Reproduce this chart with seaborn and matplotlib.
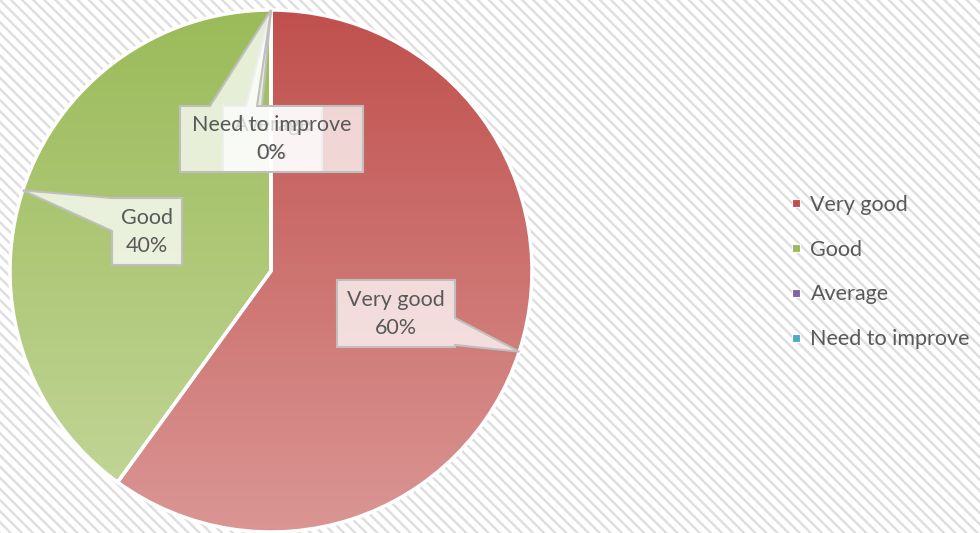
import numpy as np
import matplotlib
matplotlib.use("Agg")
import matplotlib.pyplot as plt
import seaborn as sns
from matplotlib.patches import Rectangle, Polygon
from matplotlib.lines import Line2D
from matplotlib.colors import to_rgb

# data
categories = ["Very good", "Good", "Average", "Need to improve"]
shares = [60, 40, 0, 0]
base_colors = ["#c0504d", "#9bbb59", "#8064a2", "#4bacc6"]
light_colors = ["#da9694", "#c4d79b", "#b2a1c7", "#93cddd"]

sns.set_theme(style="white")
plt.rcParams["font.family"] = ["Lato", "DejaVu Sans"]
plt.rcParams["hatch.linewidth"] = 1.7
TXT = "#595959"
FS = 15.5

W, H = 980, 533
CX, CY, R = 271, 271, 261  # pie centre / radius in pixels


def to_data(px, py):
    return ((px - CX) / R, (CY - py) / R)


fig = plt.figure(figsize=(W / 100, H / 100), dpi=100)
fig.patches.append(Rectangle((0, 0), 1, 1, transform=fig.transFigure,
                             facecolor="white", edgecolor="#dedede",
                             hatch="\\\\\\", lw=0, zorder=-10))

ax = fig.add_axes([(CX - R) / W, (H - CY - R) / H, 2 * R / W, 2 * R / H])

wedges, _ = ax.pie(shares, colors=base_colors, startangle=90, counterclock=False,
                   radius=1, wedgeprops=dict(edgecolor="white", linewidth=2.5))
ax.set_xlim(-1, 1)
ax.set_ylim(-1, 1)
ax.set_aspect("equal")
ax.axis("off")

# vertical gradient fill for each slice
t = np.linspace(0, 1, 256)[:, None]
for w, c0, c1 in zip(wedges, base_colors, light_colors):
    a, b = np.array(to_rgb(c0)), np.array(to_rgb(c1))
    img = (1 - t)[..., None] * a + t[..., None] * b
    img = np.repeat(img, 2, axis=1)
    im = ax.imshow(img, extent=(-1, 1, -1, 1), origin="upper", aspect="auto",
                   zorder=2, interpolation="bilinear")
    im.set_clip_path(w)
    w.set_facecolor("none")
    w.set_zorder(3)


def callout(box, side, base, tip, text, z, text_color=TXT):
    x0, y0, x1, y1 = box
    b1, b2 = base
    if side == "right":
        pts = [(x0, y0), (x1, y0), (x1, b1), tip, (x1, b2), (x1, y1), (x0, y1)]
    elif side == "left":
        pts = [(x0, y0), (x1, y0), (x1, y1), (x0, y1), (x0, b2), tip, (x0, b1)]
    else:
        pts = [(x0, y0), (b1, y0), tip, (b2, y0), (x1, y0), (x1, y1), (x0, y1)]
    pts = [to_data(px, py) if (px, py) != tip else tip for px, py in pts]
    ax.add_patch(Polygon(pts, closed=True, facecolor=(1, 1, 1, 0.75),
                         edgecolor="#bfbfbf", linewidth=1.5, zorder=z,
                         clip_on=False))
    cx, cy = to_data((x0 + x1) / 2, (y0 + y1) / 2)
    ax.text(cx, cy, text, ha="center", va="center", fontsize=FS, color=text_color,
            linespacing=1.5, zorder=z + 0.5, clip_on=False)


def tip_of(w):
    ang = np.deg2rad((w.theta1 + w.theta2) / 2)
    return (np.cos(ang), np.sin(ang))


layout = {
    "Very good": ((337, 280, 455, 347), "right", (318, 345)),
    "Good": ((112, 198, 182, 265), "left", (198, 231)),
    "Average": ((223, 106, 322, 172), "top", (246, 262)),
    "Need to improve": ((180, 106, 363, 172), "top", (210, 257)),
}
for i, (w, cat, val) in enumerate(zip(wedges, categories, shares)):
    box, side, base = layout[cat]
    callout(box, side, base, tip_of(w), f"{cat}\n{val}%", 5 + i)

handles = [Line2D([], [], marker="s", linestyle="none", markersize=6,
                  markerfacecolor=c, markeredgecolor="white", markeredgewidth=0.8)
           for c in base_colors]
fig.legend(handles, categories, loc="center left",
           bbox_to_anchor=(790 / W, 1 - 272 / H), frameon=False, fontsize=FS,
           labelcolor=TXT, handlelength=0.6, handletextpad=0.35,
           labelspacing=1.15, borderpad=0, borderaxespad=0)

fig.savefig("out.png", dpi=100)
